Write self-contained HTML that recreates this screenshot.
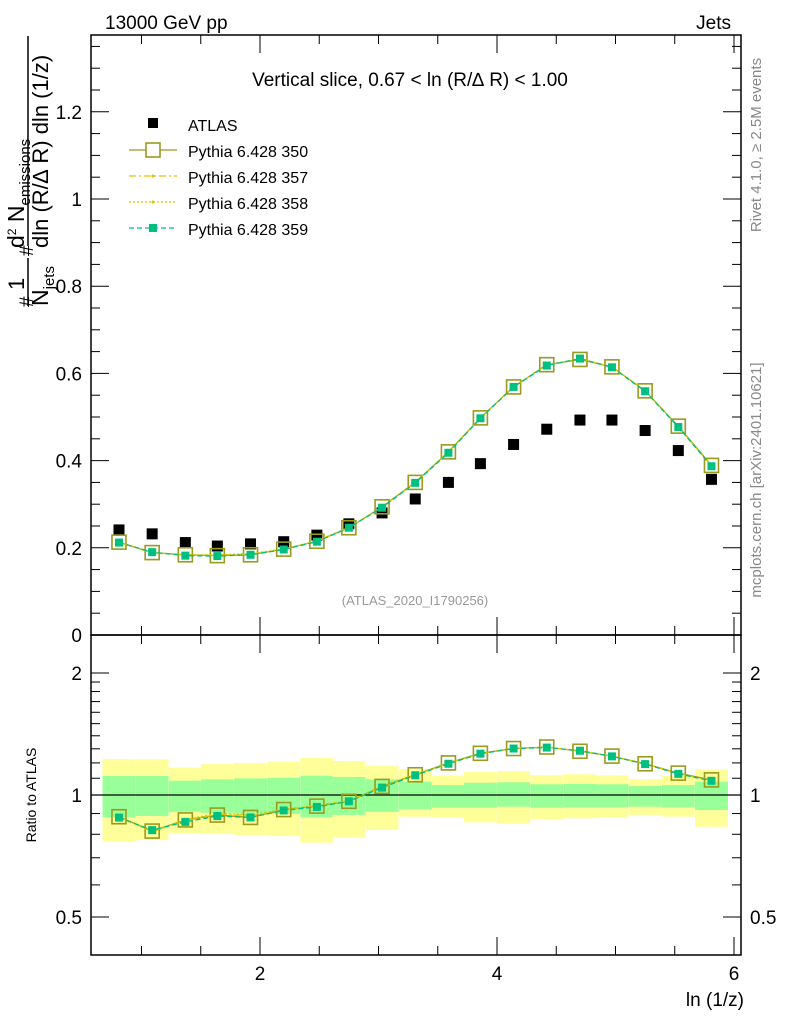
<!DOCTYPE html>
<html><head><meta charset="utf-8"><style>
body{margin:0;background:#fff}
svg{display:block;font-family:"Liberation Sans",sans-serif}
</style></head><body>
<svg id="chart" width="786" height="1024" viewBox="0 0 786 1024" xmlns="http://www.w3.org/2000/svg">
<g id="bands"></g>
<g id="axes"></g>
<g id="series"></g>
<text x="105" y="29" font-size="19">13000 GeV pp</text>
<text x="731" y="29" font-size="19" text-anchor="end">Jets</text>
<text x="410" y="86" font-size="19" text-anchor="middle">Vertical slice, 0.67 &lt; ln (R/∆ R) &lt; 1.00</text>
<text x="415" y="605" font-size="13" fill="#999" text-anchor="middle">(ATLAS_2020_I1790256)</text>
<text transform="translate(761,145) rotate(-90)" font-size="15" fill="#888" text-anchor="middle">Rivet 4.1.0, ≥ 2.5M events</text>
<text transform="translate(761,480) rotate(-90)" font-size="15" fill="#888" text-anchor="middle">mcplots.cern.ch [arXiv:2401.10621]</text>
<g>
<text transform="translate(33,307) rotate(-90)" font-size="19">#</text>
<text transform="translate(24,290) rotate(-90)" font-size="22">1</text>
<line x1="28" y1="306" x2="28" y2="258" stroke="#000" stroke-width="1.5"/>
<text transform="translate(48,306) rotate(-90)" font-size="23">N<tspan font-size="15" dy="6">jets</tspan></text>
<text transform="translate(33,256) rotate(-90)" font-size="19">#</text>
<text transform="translate(24,248) rotate(-90)" font-size="23">d<tspan font-size="12" dy="-8">2</tspan><tspan dy="8"> N</tspan><tspan font-size="15" dy="6">emissions</tspan></text>
<line x1="28" y1="246" x2="28" y2="36" stroke="#000" stroke-width="1.5"/>
<text transform="translate(48,248) rotate(-90)" font-size="22">dln (R/∆ R) dln (1/z)</text>
</g>
<text transform="translate(36,795) rotate(-90)" font-size="14" text-anchor="middle">Ratio to ATLAS</text>
<text x="744" y="1006" font-size="19" text-anchor="end">ln (1/z)</text>
<g id="legend"></g>
</svg>
<script>
const xCenters=[0.81,1.09,1.37,1.64,1.92,2.20,2.48,2.75,3.03,3.31,3.59,3.86,4.14,4.42,4.70,4.97,5.25,5.53,5.81];
const atlasVals=[0.241,0.232,0.212,0.204,0.209,0.214,0.229,0.255,0.280,0.312,0.350,0.393,0.437,0.472,0.493,0.493,0.469,0.423,0.357];
const py350=[0.213,0.189,0.184,0.182,0.184,0.197,0.215,0.246,0.294,0.350,0.420,0.498,0.569,0.620,0.632,0.615,0.560,0.479,0.389];
const py357=[0.212,0.190,0.183,0.183,0.186,0.196,0.216,0.247,0.293,0.349,0.419,0.498,0.570,0.619,0.634,0.614,0.561,0.477,0.388];
const py358=[0.213,0.188,0.184,0.184,0.187,0.197,0.216,0.246,0.293,0.350,0.420,0.497,0.569,0.619,0.633,0.615,0.560,0.478,0.387];
const py359=[0.212,0.190,0.182,0.181,0.184,0.196,0.214,0.246,0.292,0.349,0.418,0.497,0.569,0.618,0.634,0.614,0.559,0.477,0.387];
const yellowUp=[1.227,1.225,1.168,1.192,1.199,1.208,1.234,1.213,1.181,1.159,1.116,1.139,1.146,1.12,1.125,1.118,1.095,1.114,1.157];
const yellowDn=[0.767,0.774,0.804,0.801,0.797,0.792,0.763,0.786,0.820,0.884,0.881,0.856,0.851,0.872,0.876,0.879,0.893,0.884,0.835];
const greenUp=[1.114,1.114,1.085,1.093,1.099,1.103,1.116,1.108,1.093,1.079,1.058,1.072,1.075,1.063,1.065,1.063,1.052,1.058,1.079];
const greenDn=[0.881,0.888,0.909,0.904,0.901,0.898,0.881,0.893,0.909,0.922,0.930,0.930,0.936,0.930,0.932,0.932,0.936,0.932,0.918];
const mainYTicks=[0,0.2,0.4,0.6,0.8,1,1.2];
const mainYLabels=["0","0.2","0.4","0.6","0.8","1","1.2"];
const ratioTicks=[0.5,1,2];
const ratioLabels=["0.5","1","2"];
const xTicks=[2,4,6];
const xLabels=["2","4","6"];

const NS="http://www.w3.org/2000/svg";
const L=91,R=741,T=35,MB=635,RB=955;
const X=v=>23+v*118.5;
const Y=v=>635-v*436;
const RY=v=>795-Math.log2(v)*122;
function mk(tag,attrs,parent){const e=document.createElementNS(NS,tag);for(const k in attrs)e.setAttribute(k,attrs[k]);parent.appendChild(e);return e;}
const axes=document.getElementById('axes'),bands=document.getElementById('bands'),series=document.getElementById('series'),legend=document.getElementById('legend');
const hw=0.1388;
for(let i=0;i<xCenters.length;i++){
  const x0=X(xCenters[i]-hw),x1=X(xCenters[i]+hw);
  const y=mk('rect',{x:x0,y:RY(yellowUp[i]),width:x1-x0,height:RY(yellowDn[i])-RY(yellowUp[i]),fill:'#ffff99'},bands);
  
  
  const g=mk('rect',{x:x0,y:RY(greenUp[i]),width:x1-x0,height:RY(greenDn[i])-RY(greenUp[i]),fill:'#99ff99'},bands);
  
  
}
mk('rect',{x:L,y:T,width:R-L,height:MB-T,fill:'none',stroke:'#000','stroke-width':1.5},axes);
mk('rect',{x:L,y:MB,width:R-L,height:RB-MB,fill:'none',stroke:'#000','stroke-width':1.5},axes);
mk('line',{x1:L,y1:RY(1),x2:R,y2:RY(1),stroke:'#000','stroke-width':1.3},axes);
for(let v=0;v<=1.37;v+=0.05){
  const major=Math.abs(v/0.2-Math.round(v/0.2))<1e-6;const len=major?18:9;const y=Y(v);
  mk('line',{x1:L,y1:y,x2:L+len,y2:y,stroke:'#000'},axes);mk('line',{x1:R,y1:y,x2:R-len,y2:y,stroke:'#000'},axes);
}
mainYTicks.forEach((v,i)=>{const t=mk('text',{x:82,y:Y(v)+7,'font-size':19,'text-anchor':'end'},axes);t.textContent=mainYLabels[i];

});
[0.5,0.6,0.7,0.8,0.9,1,1.1,1.2,1.3,1.4,1.5,1.6,1.7,1.8,1.9,2].forEach(v=>{
  const major=ratioTicks.includes(v);const len=major?18:9;const y=RY(v);
  mk('line',{x1:L,y1:y,x2:L+len,y2:y,stroke:'#000'},axes);mk('line',{x1:R,y1:y,x2:R-len,y2:y,stroke:'#000'},axes);
});
ratioTicks.forEach((v,i)=>{
  const a=mk('text',{x:82,y:RY(v)+7,'font-size':19,'text-anchor':'end'},axes);a.textContent=ratioLabels[i];
  
  
  const b=mk('text',{x:750,y:RY(v)+7,'font-size':19},axes);b.textContent=ratioLabels[i];
  
  
});
for(let v=1;v<=6.01;v+=0.5){
  const major=xTicks.includes(Math.round(v*10)/10);const len=major?18:9;const x=X(v);
  [[T,T+len],[MB,MB-len],[MB,MB+len],[RB,RB-len]].forEach(p=>mk('line',{x1:x,y1:p[0],x2:x,y2:p[1],stroke:'#000'},axes));
}
xTicks.forEach((v,i)=>{const t=mk('text',{x:X(v),y:980,'font-size':19,'text-anchor':'middle'},axes);t.textContent=xLabels[i];

});
const styles=[
 {d:py350,c:'#9a9a1e',dash:'',w:1.3,m:'open',name:'pythia-350'},
 {d:py357,c:'#e6c000',dash:'7,3,2,3',w:1.2,m:'dot',name:'pythia-357'},
 {d:py358,c:'#cccc00',dash:'2,2',w:1.2,m:'dot',name:'pythia-358'},
 {d:py359,c:'#00c080',dash:'5,3',w:1.3,m:'fill',name:'pythia-359'}];
function drawSeries(s,yf,vals,lbl){
  const pts=xCenters.map((x,i)=>X(x)+','+yf(vals[i])).join(' ');
  const pl=mk('polyline',{points:pts,fill:'none',stroke:s.c,'stroke-width':s.w,'stroke-dasharray':s.dash},series);
  
  
  xCenters.forEach((x,i)=>{
    const cx=X(x),cy=yf(vals[i]);let m;
    if(s.m==='open')m=mk('rect',{x:cx-7,y:cy-7,width:14,height:14,fill:'none',stroke:s.c,'stroke-width':1.6},series);
    else if(s.m==='fill')m=mk('rect',{x:cx-4,y:cy-4,width:8,height:8,fill:s.c},series);
    else m=mk('circle',{cx:cx,cy:cy,r:1.5,fill:s.c},series);
    
    
  });
}
xCenters.forEach((x,i)=>{const r=mk('rect',{x:X(x)-5.5,y:Y(atlasVals[i])-5.5,width:11,height:11,fill:'#000'},series);

});
styles.forEach(s=>{drawSeries(s,Y,s.d,'');drawSeries(s,RY,s.d.map((v,i)=>v/atlasVals[i]),'-ratio');});
const lr=mk('rect',{x:148,y:118,width:10,height:10,fill:'#000'},legend);


const names=['ATLAS','Pythia 6.428 350','Pythia 6.428 357','Pythia 6.428 358','Pythia 6.428 359'];
names.forEach((n,i)=>{const t=mk('text',{x:188,y:131+i*26,'font-size':16},legend);t.textContent=n;

});
styles.forEach((s,i)=>{const y=150+i*26;
 const l=mk('line',{x1:129,y1:y,x2:177,y2:y,stroke:s.c,'stroke-width':s.w,'stroke-dasharray':s.dash},legend);
 
 
 if(s.m==='open')mk('rect',{x:146,y:y-7,width:14,height:14,fill:'#fff',stroke:s.c,'stroke-width':1.6},legend);
 else if(s.m==='fill')mk('rect',{x:149,y:y-4,width:8,height:8,fill:s.c},legend);
 else mk('circle',{cx:153,cy:y,r:1.5,fill:s.c},legend);
});
</script>
</body></html>
